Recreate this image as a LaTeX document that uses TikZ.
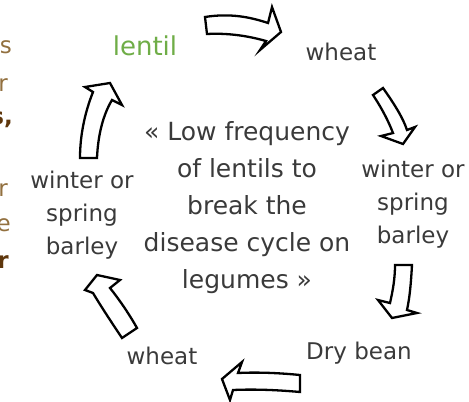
\documentclass[tikz,border=0pt]{standalone}
\usepackage{fontspec}
\setmainfont{DejaVu Sans}
\definecolor{txt}{HTML}{3A3A3A}
\definecolor{lentilgreen}{HTML}{6FAD47}
\definecolor{lightbrown}{HTML}{92703F}
\definecolor{darkbrown}{HTML}{5E360C}
\begin{document}
\begin{tikzpicture}[x=1pt,y=-1pt,
  lbl/.style={text=txt,font=\fontsize{23}{33}\selectfont,align=center,inner sep=0pt},
  ctr/.style={text=txt,font=\fontsize{25}{37}\selectfont,align=center,inner sep=0pt},
  frag/.style={anchor=east,inner sep=0pt,font=\fontsize{23}{33}\selectfont},
  blockarrow/.style={draw=black,fill=white,line width=2.3pt,line join=miter,miter limit=10}]
\useasboundingbox (0,0) rectangle (469,402);
\clip (0,0) rectangle (469,402);
% cut-off text at left edge
\node[frag,text=lightbrown] (f1) at (12,47) {s};
\node[frag,text=lightbrown] (f2) at (8,85) {r};
\node[frag,text=darkbrown,font=\fontsize{23}{33}\selectfont\bfseries] (f3) at (13,120) {s,};
\node[frag,text=lightbrown] (f4) at (8,190) {r};
\node[frag,text=lightbrown] (f5) at (11,225) {e};
\node[frag,text=darkbrown,font=\fontsize{23}{33}\selectfont\bfseries] (f6) at (9,262) {r};
% labels
\node[lbl,text=lentilgreen,font=\fontsize{26}{33}\selectfont] (lentil) at (145,46) {lentil};
\node[lbl] (wheat1) at (341,52) {wheat};
\node[lbl] (barleyR) at (413,204) {winter or\\spring\\barley};
\node[lbl] (bean) at (359,353) {Dry bean};
\node[lbl] (wheat2) at (162,356) {wheat};
\node[lbl] (barleyL) at (82,215) {winter or\\spring\\barley};
\node[ctr] (center) at (247,208) {« Low frequency\\of lentils to\\break the\\disease cycle on\\legumes »};
% block arrows
\path[blockarrow] (205,17) .. controls (230,13) and (250,17) .. (268,23) -- (272,7) -- (281,32) -- (260,50) -- (266,41) .. controls (245,35) and (225,33) .. (207,34) -- cycle;
\path[blockarrow] (373,95) -- (383,88) .. controls (395,105) and (403,118) .. (407,130) -- (415,127) -- (403,144) -- (381,136) -- (393,133) .. controls (388,120) and (381,107) .. (373,95) -- cycle;
\path[blockarrow] (395,265) -- (412,265) .. controls (411,282) and (410,296) .. (407,310) -- (417,313) -- (392,318) -- (378,300) -- (390,303) .. controls (393,290) and (395,278) .. (395,265) -- cycle;
\path[blockarrow] (300,375) .. controls (280,373) and (258,372) .. (238,373) -- (242,362) -- (222,379) -- (230,400) -- (233,390) .. controls (255,389) and (278,390) .. (300,392) -- cycle;
\path[blockarrow] (122,338) -- (137,328) .. controls (128,312) and (118,298) .. (110,288) -- (120,280) -- (97,275) -- (85,290) -- (93,293) .. controls (102,308) and (112,323) .. (122,338) -- cycle;
\path[blockarrow] (80,158) -- (97,158) .. controls (98,135) and (103,115) .. (112,100) -- (122,105) -- (110,83) -- (85,87) -- (93,92) .. controls (85,112) and (80,135) .. (80,158) -- cycle;
\end{tikzpicture}
\end{document}
